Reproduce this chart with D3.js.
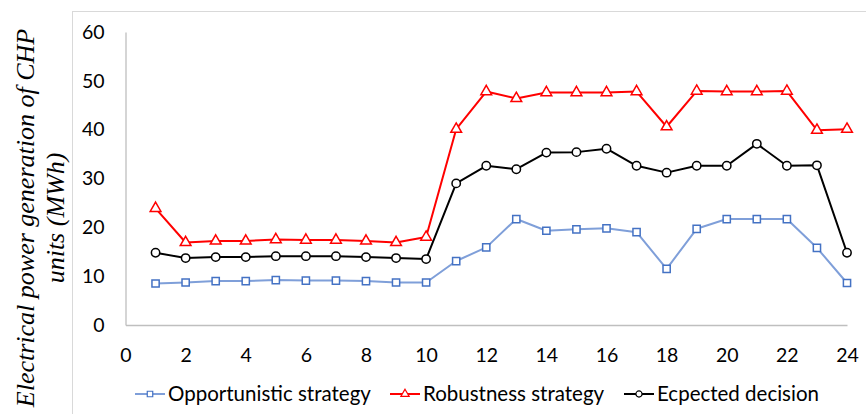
<!DOCTYPE html>
<html>
<head>
<meta charset="utf-8">
<script src="https://cdn.jsdelivr.net/npm/d3@7"></script>
<style>
  html, body { margin: 0; padding: 0; background: #fff; }
  svg { display: block; }
</style>
</head>
<body>
<svg id="chart" width="866" height="414"></svg>
<script>
// Hourly electrical output of the CHP units under three decision strategies
const hours = d3.range(1, 25);
const opportunistic = [8.5, 8.7, 9.0, 9.0, 9.2, 9.1, 9.1, 9.0, 8.7, 8.7, 13.1, 15.9,
                       21.7, 19.3, 19.6, 19.8, 19.0, 11.5, 19.7, 21.7, 21.7, 21.7, 15.8, 8.6];
const robustness = [23.9, 16.9, 17.2, 17.2, 17.5, 17.4, 17.4, 17.2, 16.9, 18.0, 40.1, 47.8,
                    46.4, 47.6, 47.6, 47.6, 47.8, 40.6, 47.9, 47.8, 47.8, 47.9, 39.9, 40.1];
const expected = [14.8, 13.7, 13.9, 13.9, 14.1, 14.1, 14.1, 13.9, 13.7, 13.5, 29.0, 32.6,
                  31.9, 35.3, 35.4, 36.1, 32.6, 31.2, 32.6, 32.6, 37.1, 32.6, 32.7, 14.8];
const xTicks = d3.range(0, 25, 2);
const yTicks = [0, 10, 20, 30, 40, 50, 60];
const seriesNames = ["Opportunistic strategy", "Robustness strategy", "Ecpected decision"];
const yTitle = ["Electrical power generation of CHP", "units (MWh)"];

const svg = d3.select("#chart");
const font = "Lato, 'Open Sans', sans-serif";

// outer chart frame
svg.append("rect")
  .attr("x", 72.5).attr("y", 11.5)
  .attr("width", 820).attr("height", 420)
  .attr("fill", "none").attr("stroke", "#d9d9d9").attr("stroke-width", 1);

const x = d3.scaleLinear().domain([0, 24]).range([125.5, 847]);
const y = d3.scaleLinear().domain([0, 60]).range([325, 32]);

// axes
const xAxis = svg.append("g").attr("transform", `translate(0,${y(0)})`)
  .call(d3.axisBottom(x).tickValues(xTicks).tickSize(0).tickPadding(23));
const yAxis = svg.append("g").attr("transform", `translate(${x(0)},0)`)
  .call(d3.axisLeft(y).tickValues(yTicks).tickSize(0).tickPadding(21));
[xAxis, yAxis].forEach(g => {
  g.select(".domain").attr("stroke", "#bfbfbf").attr("stroke-width", 1.3);
  g.selectAll("text").attr("font-family", font).attr("font-size", 19.5).attr("fill", "#000");
});

// y-axis title, two rotated lines
const title = svg.append("text")
  .attr("transform", "translate(0,218) rotate(-90)")
  .attr("text-anchor", "middle")
  .attr("font-family", "'Liberation Serif', 'Times New Roman', serif")
  .attr("font-style", "italic")
  .attr("font-size", 26)
  .attr("fill", "#000");
title.append("tspan").attr("x", 0).attr("y", 34).text(yTitle[0]);
title.append("tspan").attr("x", 0).attr("y", 64).text(yTitle[1]);

const series = [
  { name: seriesNames[0], values: opportunistic, line: "#7f9fd9", mark: "#4472c4", shape: d3.symbolSquare, size: 52 },
  { name: seriesNames[1], values: robustness, line: "#ff0000", mark: "#ff0000", shape: d3.symbolTriangle, size: 50 },
  { name: seriesNames[2], values: expected, line: "#000000", mark: "#000000", shape: d3.symbolCircle, size: 55 }
];

const line = d3.line().x((d, i) => x(hours[i])).y(d => y(d));

series.forEach(s => {
  svg.append("path")
    .attr("d", line(s.values))
    .attr("fill", "none").attr("stroke", s.line).attr("stroke-width", 2)
    .attr("stroke-linejoin", "round");
  svg.append("g").selectAll("path")
    .data(s.values)
    .join("path")
    .attr("transform", (d, i) => `translate(${x(hours[i])},${y(d)})`)
    .attr("d", d3.symbol().type(s.shape).size(s.size)())
    .attr("fill", "#fff").attr("stroke", s.mark).attr("stroke-width", 1.5);
});

// legend
const legendX = [135, 390, 624];
const legend = svg.append("g").attr("transform", "translate(0,394)");
series.forEach((s, i) => {
  const g = legend.append("g").attr("transform", `translate(${legendX[i]},0)`);
  g.append("line").attr("x1", 0).attr("x2", 30).attr("y1", 0).attr("y2", 0)
    .attr("stroke", s.line).attr("stroke-width", 2);
  g.append("path").attr("transform", "translate(15,0)")
    .attr("d", d3.symbol().type(s.shape).size(30)())
    .attr("fill", "#fff").attr("stroke", s.mark).attr("stroke-width", 1.2);
  g.append("text").attr("x", 33).attr("y", 0).attr("dy", "0.36em")
    .attr("font-family", font).attr("font-size", 20.5).attr("fill", "#000")
    .text(s.name);
});
</script>
</body>
</html>
